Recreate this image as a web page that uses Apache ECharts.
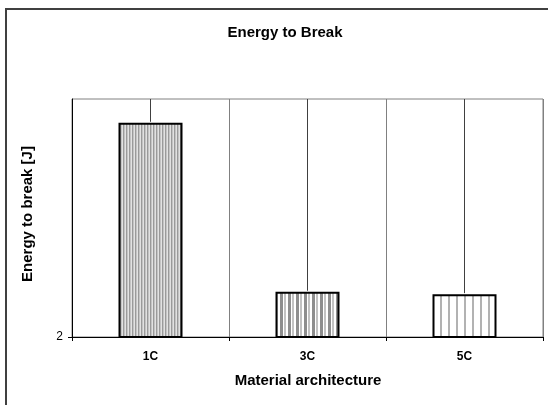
<!DOCTYPE html>
<html>
<head>
<meta charset="utf-8">
<script src="https://cdn.jsdelivr.net/npm/echarts@6/dist/echarts.min.js"></script>
<style>
  html, body { margin: 0; padding: 0; background: #fff; }
  #chart { width: 548px; height: 405px; }
</style>
</head>
<body>
<div id="chart"></div>
<script>
// Energy to break per material architecture
var categories = ['1C', '3C', '5C'];
var energyValues = [11.0, 3.9, 3.8];
// upper ends of the error bars (they run past the top of the plot)
var errorUpper = [14.0, 13.0, 13.0];
var yTickLabels = [2];

var FONT = "'Liberation Sans', Arial, sans-serif";

// vertical stripe fills, one column of colours per pixel
function stripes(cols) {
  var c = document.createElement('canvas');
  c.width = cols.length;
  c.height = 4;
  var ctx = c.getContext('2d');
  cols.forEach(function (col, i) {
    ctx.fillStyle = col;
    ctx.fillRect(i, 0, 1, 4);
  });
  return { image: c, repeat: 'repeat' };
}
var fills = [
  stripes(['#9a9a9a', '#c4c4c4', '#e2e2e2']),
  stripes(['#8e8e8e', '#8e8e8e', '#8e8e8e', '#ffffff', '#c2c2c2', '#c2c2c2', '#ffffff', '#ffffff']),
  stripes(['#b2b2b2', '#b2b2b2', '#ffffff', '#ffffff', '#ffffff', '#ffffff', '#ffffff', '#ffffff'])
];

var barData = energyValues.map(function (v, i) {
  return { value: v, itemStyle: { color: fills[i] } };
});
var errData = energyValues.map(function (v, i) {
  return [i, v, errorUpper[i]];
});

var chart = echarts.init(document.getElementById('chart'), null, { renderer: 'canvas' });
chart.setOption({
  animation: false,
  backgroundColor: '#ffffff',
  textStyle: { fontFamily: FONT },
  title: {
    text: 'Energy to Break',
    left: 280,
    top: 20,
    textAlign: 'center',
    textStyle: { fontFamily: FONT, fontSize: 15, fontWeight: 'bold', color: '#000' }
  },
  graphic: [
    {
      type: 'rect',
      shape: { x: 6, y: 9, width: 700, height: 600 },
      style: { fill: 'none', stroke: '#404040', lineWidth: 2 },
      silent: true,
      z: 100
    },
    {
      type: 'text',
      x: 28, y: 214,
      rotation: Math.PI / 2,
      style: {
        text: 'Energy to break [J]',
        font: 'bold 15px ' + FONT,
        fill: '#000',
        align: 'center',
        verticalAlign: 'middle'
      }
    },
    {
      type: 'text',
      x: 308, y: 381,
      style: {
        text: 'Material architecture',
        font: 'bold 15px ' + FONT,
        fill: '#000',
        align: 'center',
        verticalAlign: 'middle'
      }
    }
  ],
  grid: {
    left: 72, right: 5, top: 99, bottom: 68,
    show: true,
    borderColor: '#808080',
    borderWidth: 1,
    backgroundColor: 'transparent'
  },
  xAxis: {
    type: 'category',
    data: categories,
    boundaryGap: true,
    axisLine: { lineStyle: { color: '#000', width: 1 } },
    axisTick: { show: true, length: 4, inside: false, lineStyle: { color: '#000' } },
    axisLabel: { fontFamily: FONT, fontSize: 12, fontWeight: 'bold', color: '#000', margin: 14 },
    splitLine: { show: true, lineStyle: { color: '#808080', width: 1 } }
  },
  yAxis: {
    type: 'value',
    min: 2,
    max: 12,
    axisLine: { show: true, lineStyle: { color: '#000', width: 1 } },
    axisTick: { show: true, length: 4, customValues: yTickLabels, lineStyle: { color: '#000' } },
    axisLabel: { fontFamily: FONT, fontSize: 12, color: '#000', margin: 9, customValues: yTickLabels },
    splitLine: { show: false }
  },
  series: [
    {
      type: 'bar',
      data: barData,
      barWidth: 64,
      itemStyle: { borderColor: '#000', borderWidth: 2 },
      z: 2
    },
    {
      type: 'custom',
      data: errData,
      encode: { x: 0, y: 1 },
      z: 3,
      renderItem: function (params, api) {
        var base = api.coord([api.value(0), api.value(1)]);
        var top = api.coord([api.value(0), api.value(2)]);
        var yTop = Math.max(top[1], params.coordSys.y);
        return {
          type: 'line',
          shape: { x1: base[0], y1: base[1] - 1, x2: base[0], y2: yTop },
          style: { stroke: '#404040', lineWidth: 1 }
        };
      }
    }
  ]
});
</script>
</body>
</html>
